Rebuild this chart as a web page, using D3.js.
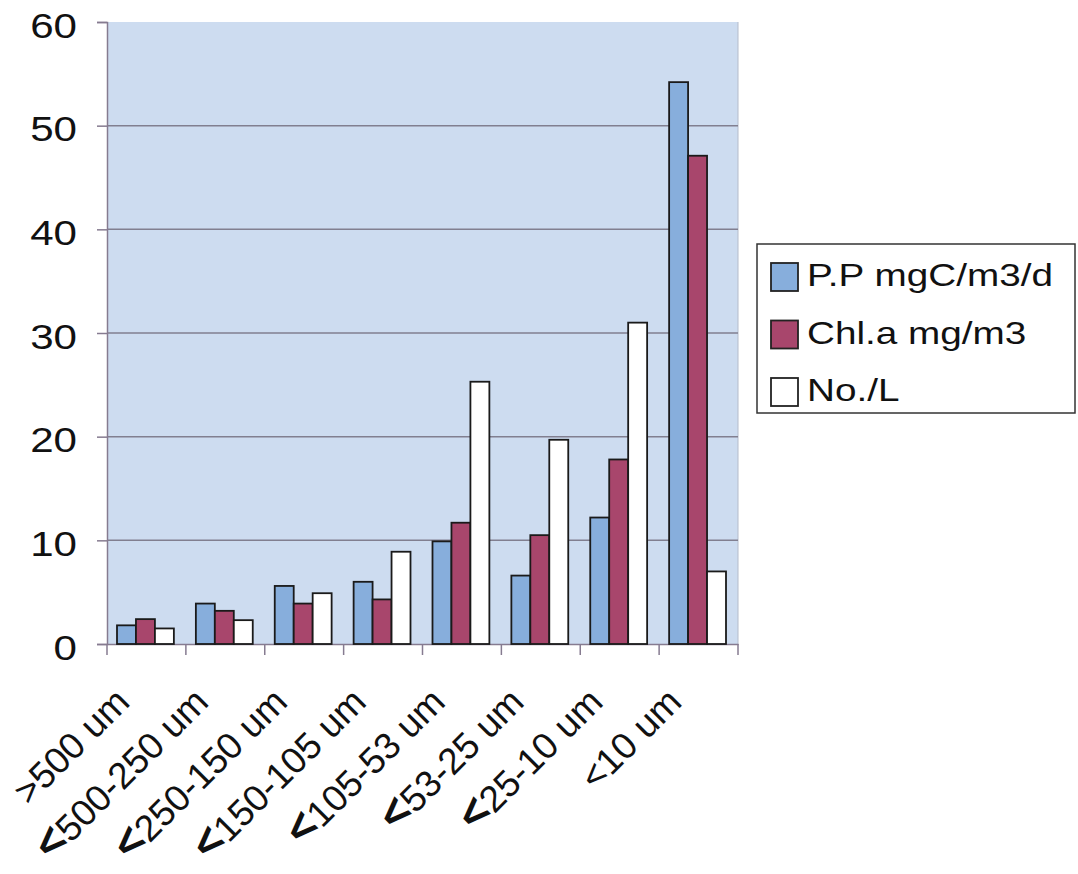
<!DOCTYPE html>
<html><head><meta charset="utf-8">
<script src="https://cdn.jsdelivr.net/npm/d3@7"></script>
<style>body{margin:0;background:#fff;} svg{display:block;font-family:"Liberation Sans",Arial,sans-serif;}</style>
</head><body><svg id="c" width="1078" height="874"></svg>
<script>
const categories = [">500 um", "<500-250 um", "<250-150 um", "<150-105 um", "<105-53 um", "<53-25 um", "<25-10 um", "<10 um"];
const bigLess = [false, true, true, true, true, true, true, false];
const ppValues = [1.8, 3.9, 5.6, 6.0, 9.9, 6.6, 12.2, 54.2];
const chlValues = [2.4, 3.2, 3.9, 4.3, 11.7, 10.5, 17.8, 47.1];
const noValues = [1.5, 2.3, 4.9, 8.9, 25.3, 19.7, 31.0, 7.0];
const seriesNames = ["P.P mgC/m3/d", "Chl.a mg/m3", "No./L"];
const seriesColors = ["#87aedc", "#a8466c", "#ffffff"];
const yTicks = [0, 10, 20, 30, 40, 50, 60];

const svg = d3.select("#c");
const L = 107, R = 738, T = 22, B = 644;
const x = d3.scaleBand().domain(categories).range([L, R]);
const xs = d3.scaleBand().domain([0, 1, 2]).range([10, x.bandwidth() - 12]);
const y = d3.scaleLinear().domain([0, 60]).range([B, T]);

svg.append("rect").attr("x", L).attr("y", T).attr("width", R - L).attr("height", B - T).attr("fill", "#cddcf0");
svg.append("line").attr("x1", R).attr("x2", R).attr("y1", T).attr("y2", B).attr("stroke", "#b4bccb").attr("stroke-width", 1);

// gridlines
svg.append("g").selectAll("line").data(yTicks.filter(d => d > 0 && d < 60)).join("line")
  .attr("x1", L).attr("x2", R).attr("y1", d => y(d)).attr("y2", d => y(d))
  .attr("stroke", "#817f90").attr("stroke-width", 1.5);

// y axis
const yAxis = svg.append("g").attr("transform", `translate(${L},0)`)
  .call(d3.axisLeft(y).tickValues(yTicks).tickSize(10).tickFormat(""));
yAxis.select(".domain").attr("stroke", "#867b90").attr("stroke-width", 1.5);
yAxis.selectAll(".tick line").attr("stroke", "#867b90").attr("stroke-width", 1.5);
svg.append("g").selectAll("text").data(yTicks).join("text")
  .attr("transform", d => `translate(77,${y(d) + 3}) scale(1.17,1)`)
  .attr("text-anchor", "end").attr("dy", "0.35em")
  .attr("font-size", 36).attr("fill", "#111").text(d => d);

// x axis
const xAxis = svg.append("g").attr("transform", `translate(0,${B})`)
  .call(d3.axisBottom(x).tickSize(0).tickFormat(""));
xAxis.select(".domain").attr("stroke", "#867b90").attr("stroke-width", 1.5);
svg.append("g").selectAll("line").data(d3.range(categories.length + 1)).join("line")
  .attr("x1", i => L + i * x.bandwidth()).attr("x2", i => L + i * x.bandwidth())
  .attr("y1", B).attr("y2", B + 11).attr("stroke", "#867b90").attr("stroke-width", 1.5);

// bars
const series = [ppValues, chlValues, noValues];
series.forEach((vals, si) => {
  svg.append("g").selectAll("rect").data(vals).join("rect")
    .attr("x", (d, i) => x(categories[i]) + xs(si))
    .attr("width", xs.bandwidth())
    .attr("y", d => y(d))
    .attr("height", d => B - y(d))
    .attr("fill", seriesColors[si])
    .attr("stroke", "#1a1a1a").attr("stroke-width", 1.8);
});

// x labels
const lab = svg.append("g").selectAll("text").data(categories).join("text")
  .attr("transform", d => `translate(${x(d) + x.bandwidth() / 2 - 15},704) rotate(-45)`)
  .attr("text-anchor", "end").attr("font-size", 37).attr("fill", "#111");
lab.each(function(d, i) {
  const t = d3.select(this);
  if (bigLess[i]) {
    t.append("tspan").attr("font-size", 46).attr("font-weight", "bold").text("<");
    t.append("tspan").text(d.slice(1));
  } else {
    t.text(d);
  }
});

// legend
const lg = svg.append("g");
lg.append("rect").attr("x", 757).attr("y", 244).attr("width", 318).attr("height", 169)
  .attr("fill", "#fff").attr("stroke", "#333").attr("stroke-width", 1.5);
const rowY = d3.scaleLinear().domain([0, 2]).range([286, 401]);
seriesNames.forEach((n, i) => {
  lg.append("rect").attr("x", 771).attr("y", rowY(i) - 23).attr("width", 27).attr("height", 28)
    .attr("fill", seriesColors[i]).attr("stroke", "#222").attr("stroke-width", 1.8);
  lg.append("text").attr("transform", `translate(807,${rowY(i)}) scale(1.21,1)`)
    .attr("font-size", 32).attr("fill", "#111").text(n);
});
</script></body></html>
